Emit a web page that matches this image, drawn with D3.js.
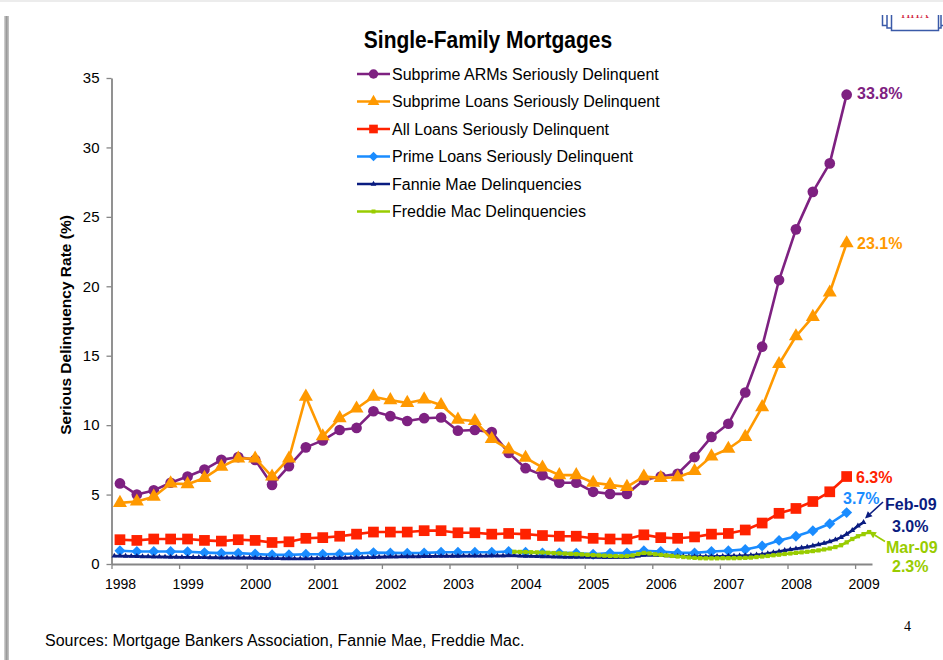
<!DOCTYPE html>
<html>
<head>
<meta charset="utf-8">
<script src="https://cdn.jsdelivr.net/npm/d3@7"></script>
<style>
  html, body { margin: 0; padding: 0; background: #fff; }
  svg { display: block; font-family: "Liberation Sans", Arial, sans-serif; }
</style>
</head>
<body>
<svg width="943" height="660"></svg>
<script>
// quarterly series, 1998 Q1 .. 2008 Q4 (index 0..43)
var years = [1998, 1999, 2000, 2001, 2002, 2003, 2004, 2005, 2006, 2007, 2008, 2009];
var yTicks = [0, 5, 10, 15, 20, 25, 30, 35];

var subprimeArms = [5.8, 5.0, 5.3, 5.85, 6.3, 6.8, 7.5, 7.7, 7.5, 5.7, 7.05, 8.4, 8.9, 9.65, 9.8, 11.0,
  10.65, 10.3, 10.5, 10.55, 9.6, 9.65, 9.5, 8.0, 6.9, 6.4, 5.85, 5.85, 5.2, 5.05, 5.05, 6.05,
  6.3, 6.5, 7.7, 9.15, 10.1, 12.35, 15.65, 20.45, 24.1, 26.8, 28.85, 33.8];

var subprimeLoans = [4.4, 4.5, 4.85, 5.8, 5.75, 6.2, 7.0, 7.6, 7.6, 6.3, 7.6, 12.05, 9.2, 10.5, 11.2, 12.05,
  11.8, 11.6, 11.85, 11.45, 10.4, 10.3, 9.0, 8.25, 7.65, 6.95, 6.4, 6.4, 5.85, 5.7, 5.55, 6.3,
  6.2, 6.25, 6.7, 7.75, 8.3, 9.15, 11.3, 14.4, 16.4, 17.8, 19.55, 23.1];

var allLoans = [1.75, 1.7, 1.8, 1.8, 1.8, 1.7, 1.65, 1.75, 1.7, 1.55, 1.6, 1.85, 1.9, 2.0, 2.15, 2.3,
  2.3, 2.3, 2.4, 2.4, 2.25, 2.25, 2.15, 2.2, 2.15, 2.05, 2.0, 2.0, 1.85, 1.8, 1.8, 2.1,
  1.9, 1.85, 1.95, 2.15, 2.2, 2.45, 2.95, 3.65, 4.0, 4.5, 5.2, 6.3];

var primeLoans = [0.95, 0.9, 0.9, 0.9, 0.88, 0.82, 0.78, 0.78, 0.72, 0.66, 0.66, 0.7, 0.7, 0.72, 0.76, 0.82,
  0.8, 0.78, 0.8, 0.85, 0.85, 0.85, 0.85, 0.9, 0.85, 0.8, 0.8, 0.78, 0.7, 0.78, 0.8, 0.95,
  0.9, 0.8, 0.8, 0.9, 0.95, 1.05, 1.3, 1.7, 2.0, 2.4, 2.9, 3.7];

// monthly, Jan 1998 .. Feb 2009
var fannieMae = [
  0.58, 0.58, 0.57, 0.56, 0.55, 0.54, 0.53, 0.52, 0.52, 0.51, 0.50, 0.50,
  0.49, 0.49, 0.48, 0.48, 0.47, 0.46, 0.46, 0.45, 0.45, 0.45, 0.44, 0.44,
  0.44, 0.43, 0.42, 0.41, 0.40, 0.40, 0.39, 0.39, 0.38, 0.38, 0.38, 0.39,
  0.40, 0.40, 0.41, 0.42, 0.42, 0.43, 0.44, 0.45, 0.46, 0.47, 0.48, 0.50,
  0.51, 0.52, 0.52, 0.53, 0.53, 0.54, 0.54, 0.55, 0.55, 0.56, 0.56, 0.57,
  0.57, 0.57, 0.58, 0.58, 0.58, 0.58, 0.58, 0.59, 0.59, 0.59, 0.60, 0.60,
  0.58, 0.57, 0.56, 0.55, 0.54, 0.53, 0.52, 0.51, 0.50, 0.50, 0.50, 0.50,
  0.50, 0.49, 0.49, 0.48, 0.48, 0.48, 0.48, 0.49, 0.52, 0.58, 0.64, 0.66,
  0.64, 0.62, 0.60, 0.58, 0.56, 0.55, 0.54, 0.53, 0.53, 0.53, 0.54, 0.55,
  0.56, 0.57, 0.58, 0.59, 0.61, 0.63, 0.66, 0.70, 0.76, 0.83, 0.90, 0.98,
  1.05, 1.10, 1.16, 1.23, 1.31, 1.40, 1.50, 1.62, 1.75, 1.92, 2.15, 2.42,
  2.75, 3.0];

// monthly, Dec 2003 .. Mar 2009
var freddieStart = 71;
var freddieMac = [
  0.88,
  0.87, 0.86, 0.85, 0.84, 0.83, 0.81, 0.79, 0.77, 0.75, 0.73, 0.71, 0.69,
  0.66, 0.64, 0.62, 0.60, 0.58, 0.57, 0.56, 0.57, 0.62, 0.72, 0.80, 0.76,
  0.70, 0.66, 0.62, 0.58, 0.54, 0.50, 0.47, 0.44, 0.42, 0.41, 0.41, 0.41,
  0.42, 0.42, 0.42, 0.43, 0.44, 0.46, 0.50, 0.54, 0.58, 0.63, 0.67, 0.72,
  0.76, 0.80, 0.84, 0.88, 0.93, 0.98, 1.05, 1.12, 1.22, 1.35, 1.56, 1.80,
  2.0, 2.15, 2.3];

var seriesNames = [
  "Subprime ARMs Seriously Delinquent",
  "Subprime Loans Seriously Delinquent",
  "All Loans Seriously Delinquent",
  "Prime Loans Seriously Delinquent",
  "Fannie Mae Delinquencies",
  "Freddie Mac Delinquencies"
];

const svg = d3.select("svg");

var x = d3.scaleLinear().domain([-0.5, 44.5]).range([111.5, 872]);
var y = d3.scaleLinear().domain([0, 35]).range([564, 78]);

// month index (0 = Jan 1998) -> quarter position
var monthPos = (m) => (m - 1) / 3;

var quarterly = (arr) => arr.map((v, i) => ({ q: i, v: v }));

var series = [
  { name: seriesNames[0], color: "#7e2181", shape: "circle", size: 90, lsize: 70, pts: quarterly(subprimeArms) },
  { name: seriesNames[1], color: "#ff9900", shape: "triangle", size: 85, lsize: 60, pts: quarterly(subprimeLoans) },
  { name: seriesNames[2], color: "#ff2200", shape: "square", size: 115, lsize: 75, pts: quarterly(allLoans) },
  { name: seriesNames[3], color: "#1a8cff", shape: "diamond", size: 60, lsize: 45, pts: quarterly(primeLoans) },
  { name: seriesNames[4], color: "#0a1c80", shape: "triangle", size: 14, lsize: 14,
    pts: fannieMae.map((v, m) => ({ q: monthPos(m), v: v })) },
  { name: seriesNames[5], color: "#99cc00", shape: "square", size: 18, lsize: 16,
    pts: freddieMac.map((v, k) => ({ q: monthPos(freddieStart + k), v: v })) }
];

var symbolType = {
  circle: d3.symbolCircle,
  triangle: d3.symbolTriangle,
  square: d3.symbolSquare,
  diamond: d3.symbolSquare
};

function marker(sel, s, size) {
  sel
    .attr("d", d3.symbol().type(symbolType[s.shape]).size(size))
    .attr("fill", s.color);
}

// slide frame
svg.append("rect").attr("x", 0).attr("y", 0).attr("width", 943).attr("height", 2).attr("fill", "#ececec");
var defs = svg.append("defs");
var barGrad = defs.append("linearGradient").attr("id", "barGrad").attr("x1", 0).attr("x2", 1).attr("y1", 0).attr("y2", 0);
barGrad.append("stop").attr("offset", 0).attr("stop-color", "#d8d8d8");
barGrad.append("stop").attr("offset", 0.5).attr("stop-color", "#9a9a9a");
barGrad.append("stop").attr("offset", 1).attr("stop-color", "#c8c8c8");
svg.append("rect").attr("x", 4).attr("y", 16).attr("width", 5).attr("height", 644).attr("fill", "url(#barGrad)");

// logo fragment, top right
defs.append("clipPath").attr("id", "logoClip")
  .append("rect").attr("x", 870).attr("y", 15).attr("width", 73).attr("height", 25);
var logo = svg.append("g").attr("clip-path", "url(#logoClip)");
logo.append("path")
  .attr("d", "M882.5 10 V25.5 H887 M887 10 V28 H891.5 M891.5 5 V30.5 H938.5 V5 M938.5 28 H941 V10 M941 25.5 H943")
  .attr("fill", "none")
  .attr("stroke", "#3a5aa8")
  .attr("stroke-width", 1.5);
logo.append("text")
  .attr("x", 915).attr("y", 18)
  .attr("text-anchor", "middle")
  .attr("font-family", "Liberation Serif, serif")
  .attr("font-size", 13)
  .attr("fill", "#d0203a")
  .text("HHA");

// title
svg.append("text")
  .attr("transform", "translate(488,48) scale(1,1.15)")
  .attr("text-anchor", "middle")
  .attr("font-weight", "bold")
  .attr("font-size", 21)
  .text("Single-Family Mortgages");

// axes
var yAxis = svg.append("g")
  .attr("transform", `translate(${x(-0.5)},0)`)
  .call(d3.axisLeft(y).tickValues(yTicks).tickSize(5).tickSizeOuter(0).tickPadding(7));

var xAxis = svg.append("g")
  .attr("transform", `translate(0,${y(0)})`)
  .call(
    d3.axisBottom(x)
      .tickValues(years.map((yr, k) => 4 * k - 0.5))
      .tickFormat((d, k) => years[k])
      .tickSize(5)
      .tickSizeOuter(0)
  );

[yAxis, xAxis].forEach((ax) => {
  ax.select(".domain").attr("stroke", "#868686").attr("stroke-width", 1.8);
  ax.selectAll(".tick line").attr("stroke", "#868686").attr("stroke-width", 1.3);
  ax.selectAll(".tick text").attr("fill", "#000").attr("font-size", 15).attr("font-family", "Liberation Sans, Arial, sans-serif");
});
xAxis.selectAll(".tick text").attr("font-size", 14).attr("dx", 8.5).attr("y", 15);

svg.append("text")
  .attr("transform", "translate(71,325) rotate(-90)")
  .attr("text-anchor", "middle")
  .attr("font-weight", "bold")
  .attr("font-size", 15.5)
  .text("Serious Delinquency Rate (%)");

// series
var line = d3.line().x((d) => x(d.q)).y((d) => y(d.v));

series.forEach((s) => {
  var g = svg.append("g");
  g.append("path")
    .datum(s.pts)
    .attr("d", line)
    .attr("fill", "none")
    .attr("stroke", s.color)
    .attr("stroke-width", 2.6)
    .attr("stroke-linejoin", "round");
  g.selectAll("path.mk")
    .data(s.pts)
    .enter()
    .append("path")
    .attr("class", "mk")
    .attr("transform", (d) => `translate(${x(d.q)},${y(d.v)})` + (s.shape === "diamond" ? " rotate(45)" : ""))
    .call(marker, s, s.size);
});

// legend
var legend = svg.append("g").attr("transform", "translate(357,74)");
var rows = legend.selectAll("g").data(series).enter().append("g")
  .attr("transform", (d, i) => `translate(0,${i * 27.5})`);
rows.append("line").attr("x1", 0).attr("x2", 33).attr("stroke", (d) => d.color).attr("stroke-width", 2.6);
rows.append("path")
  .each(function (d) {
    d3.select(this)
      .attr("transform", "translate(16.5,0)" + (d.shape === "diamond" ? " rotate(45)" : ""))
      .call(marker, d, d.lsize);
  });
rows.append("text")
  .attr("x", 35)
  .attr("dy", "0.36em")
  .attr("font-size", 16)
  .text((d) => d.name);

// end labels
var endLabels = [
  { text: "33.8%", x: 857, y: 99, color: "#7e2181" },
  { text: "23.1%", x: 857, y: 249, color: "#ff9900" },
  { text: "6.3%", x: 856, y: 483, color: "#ff2200" },
  { text: "3.7%", x: 843, y: 504, color: "#1a8cff" },
  { text: "Feb-09", x: 885, y: 510, color: "#0a1c80" },
  { text: "3.0%", x: 892, y: 532, color: "#0a1c80" },
  { text: "Mar-09", x: 886, y: 553, color: "#99cc00" },
  { text: "2.3%", x: 892, y: 572, color: "#99cc00" }
];
svg.append("g").selectAll("text").data(endLabels).enter().append("text")
  .attr("x", (d) => d.x)
  .attr("y", (d) => d.y)
  .attr("fill", (d) => d.color)
  .attr("font-weight", "bold")
  .attr("font-size", 16)
  .text((d) => d.text);

// arrows to last monthly points
[
  { color: "#0a1c80", from: [883, 502], to: [865, 518.5] },
  { color: "#99cc00", from: [885, 541.5], to: [869, 531.5] }
].forEach((a) => {
  var ang = Math.atan2(a.to[1] - a.from[1], a.to[0] - a.from[0]);
  var len = 7, w = 3.5;
  var bx = a.to[0] - len * Math.cos(ang), by = a.to[1] - len * Math.sin(ang);
  svg.append("line")
    .attr("x1", a.from[0]).attr("y1", a.from[1]).attr("x2", bx).attr("y2", by)
    .attr("stroke", a.color).attr("stroke-width", 1.6);
  svg.append("path")
    .attr("d", `M${a.to[0]},${a.to[1]} L${bx + w * Math.sin(ang)},${by - w * Math.cos(ang)} L${bx - w * Math.sin(ang)},${by + w * Math.cos(ang)} Z`)
    .attr("fill", a.color);
});

// footer
svg.append("text")
  .attr("x", 45).attr("y", 646)
  .attr("font-size", 16)
  .text("Sources: Mortgage Bankers Association, Fannie Mae, Freddie Mac.");
svg.append("text")
  .attr("x", 904).attr("y", 631)
  .attr("font-family", "Liberation Serif, serif")
  .attr("font-size", 14)
  .text("4");
</script>
</body>
</html>
